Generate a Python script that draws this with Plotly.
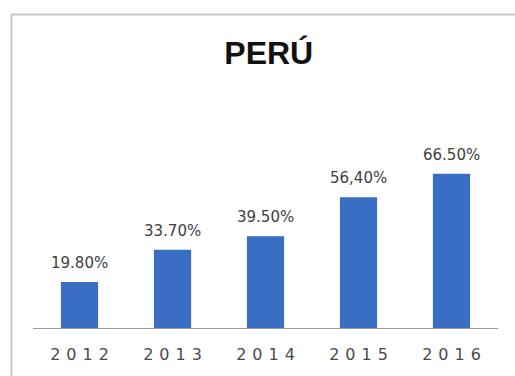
import plotly.graph_objects as go

# Internet usage share, Peru
years = [2012, 2013, 2014, 2015, 2016]
values = [19.8, 33.7, 39.5, 56.4, 66.5]
value_labels = ["19.80%", "33.70%", "39.50%", "56,40%", "66.50%"]
title_text = "PERÚ"

bar_color = "#3a6ec5"
label_color = "#404040"
tick_color = "#4a4a4a"

fig = go.Figure()
fig.add_trace(go.Bar(
    x=years,
    y=values,
    width=0.4,
    marker=dict(color=bar_color, line=dict(width=0)),
    hoverinfo="skip",
))

# value labels above each bar
for yr, v, lab in zip(years, values, value_labels):
    fig.add_annotation(
        x=yr, y=v, text=lab, showarrow=False,
        xanchor="center", yanchor="bottom", yshift=8,
        font=dict(family="DejaVu Sans", size=15, color=label_color),
    )

# letter-spaced year labels
tick_text = ['<span style="letter-spacing:6px">%d</span>' % y for y in years]

fig.update_layout(
    width=515, height=376,
    margin=dict(l=33, r=17, t=96, b=48),
    paper_bgcolor="white",
    plot_bgcolor="white",
    showlegend=False,
    title=dict(
        text="<b>%s</b>" % title_text,
        x=0.507, xanchor="center", xref="paper",
        y=1 - 53 / 376, yanchor="middle",
        font=dict(family="Liberation Sans", size=32, color="#111111"),
    ),
    xaxis=dict(
        type="linear", range=[years[0] - 0.5, years[-1] + 0.5],
        tickmode="array", tickvals=years, ticktext=tick_text, tickangle=0,
        showline=True, linecolor="#9a9a9a", linewidth=1,
        ticks="", showgrid=False, zeroline=False,
        tickfont=dict(family="DejaVu Sans", size=16, color=tick_color),
        ticklabelstandoff=12, ticklabelshift=3,
    ),
    yaxis=dict(
        range=[0, 100], visible=False, showgrid=False, zeroline=False,
    ),
    shapes=[
        # outer chart frame (top and left edges)
        dict(type="line", xref="paper", yref="paper",
             x0=(11 - 33) / 465, x1=1.1, y0=(328 - 14.5) / 232, y1=(328 - 14.5) / 232,
             line=dict(color="#c8c8c8", width=2)),
        dict(type="line", xref="paper", yref="paper",
             x0=(11.5 - 33) / 465, x1=(11.5 - 33) / 465, y0=(328 - 14) / 232, y1=-0.3,
             line=dict(color="#c8c8c8", width=2)),
    ],
)

fig.write_html("out.html")
